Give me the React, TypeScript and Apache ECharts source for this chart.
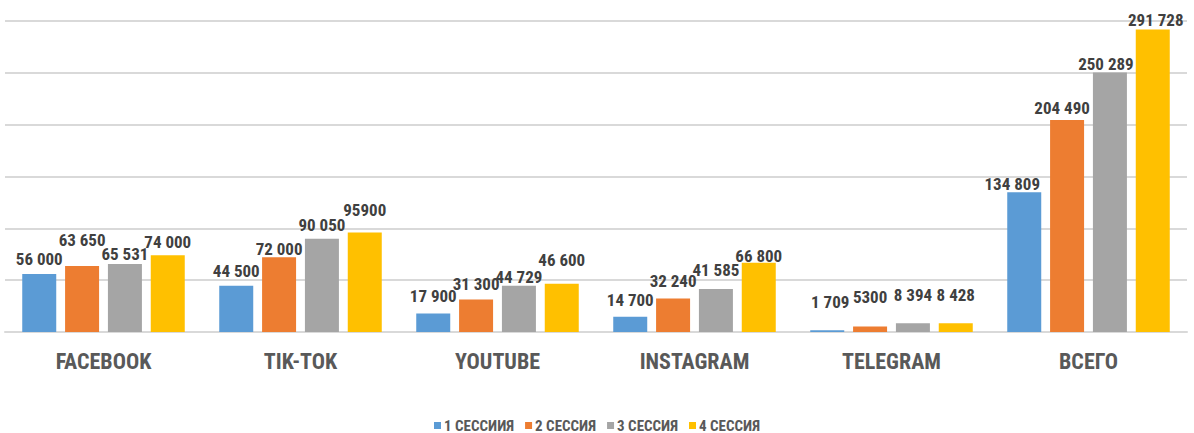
import React, { useEffect, useRef } from "react";
import * as echarts from "echarts";

const categories = ["FACEBOOK", "TIK-TOK", "YOUTUBE", "INSTAGRAM", "TELEGRAM", "ВСЕГО"];
const seriesNames = ["1 СЕССИИЯ", "2 СЕССИЯ", "3 СЕССИЯ", "4 СЕССИЯ"];
const session1 = [56000, 44500, 17900, 14700, 1709, 134809];
const session2 = [63650, 72000, 31300, 32240, 5300, 204490];
const session3 = [65531, 90050, 44729, 41585, 8394, 250289];
const session4 = [74000, 95900, 46600, 66800, 8428, 291728];
const labelTexts1 = ["56 000", "44 500", "17 900", "14 700", "1 709", "134 809"];
const labelTexts2 = ["63 650", "72 000", "31 300", "32 240", "5300", "204 490"];
const labelTexts3 = ["65 531", "90 050", "44 729", "41 585", "8 394", "250 289"];
const labelTexts4 = ["74 000", "95900", "46 600", "66 800", "8 428", "291 728"];
const colors = ["#5B9BD5", "#ED7D31", "#A5A5A5", "#FFC000"];

// manual label nudges (px) as in the original, [dx, dy] per series per category
const labelNudges1 = [[0, -6], [0, -6], [0, -9], [0, -8], [3, -20], [-12, 0]];
const labelNudges2 = [[0, -18], [0, 0], [0, -7], [0, -9], [0, -21], [-5, -4]];
const labelNudges3 = [[0, -2], [0, -5], [0, 0], [0, -10], [0, -20], [-4, 0]];
const labelNudges4 = [[0, -5], [0, -14], [0, -15], [0, 2], [0, -20], [3, -1]];

const FONT = "'Roboto Condensed', Roboto, 'Liberation Sans', sans-serif";

export default function App() {
  const ref = useRef<HTMLDivElement>(null);
  useEffect(() => {
    document.body.style.margin = "0";
    if (!ref.current) return;
    const chart = echarts.init(ref.current, null, { renderer: "svg" });
    const values = [session1, session2, session3, session4];
    const texts = [labelTexts1, labelTexts2, labelTexts3, labelTexts4];
    const nudges = [labelNudges1, labelNudges2, labelNudges3, labelNudges4];
    const series = values.map((vals, si) => ({
      name: seriesNames[si],
      type: "bar",
      barWidth: 34,
      barGap: "26%",
      itemStyle: { color: colors[si] },
      data: vals.map((v, i) => ({
        value: v,
        label: {
          formatter: texts[si][i],
          offset: nudges[si][i],
        },
      })),
      label: {
        show: true,
        position: "top",
        distance: 0,
        color: "#404040",
        fontFamily: FONT,
        fontWeight: "bold",
        fontSize: 17,
      },
    }));
    chart.setOption({
      animation: false,
      textStyle: { fontFamily: FONT },
      grid: { left: 5, right: 7, top: 21, bottom: 101, containLabel: false },
      legend: {
        bottom: -5,
        left: "center",
        icon: "rect",
        itemWidth: 7,
        itemHeight: 7,
        itemGap: 11,
        textStyle: { color: "#595959", fontFamily: FONT, fontWeight: "bold", fontSize: 15, padding: [0, 0, 0, -2] },
        data: seriesNames,
      },
      xAxis: {
        type: "category",
        data: categories,
        axisTick: { show: false },
        axisLine: { lineStyle: { color: "#d9d9d9", width: 2 } },
        axisLabel: {
          color: "#595959",
          fontFamily: FONT,
          fontWeight: "bold",
          fontSize: 22,
          margin: 18,
        },
      },
      yAxis: {
        type: "value",
        min: 0,
        max: 300000,
        interval: 50000,
        axisLabel: { show: false },
        axisLine: { show: false },
        axisTick: { show: false },
        splitLine: { lineStyle: { color: "#d9d9d9", width: 2 } },
      },
      series,
    });
    return () => chart.dispose();
  }, []);
  return <div ref={ref} style={{ width: 1194, height: 433 }} />;
}
